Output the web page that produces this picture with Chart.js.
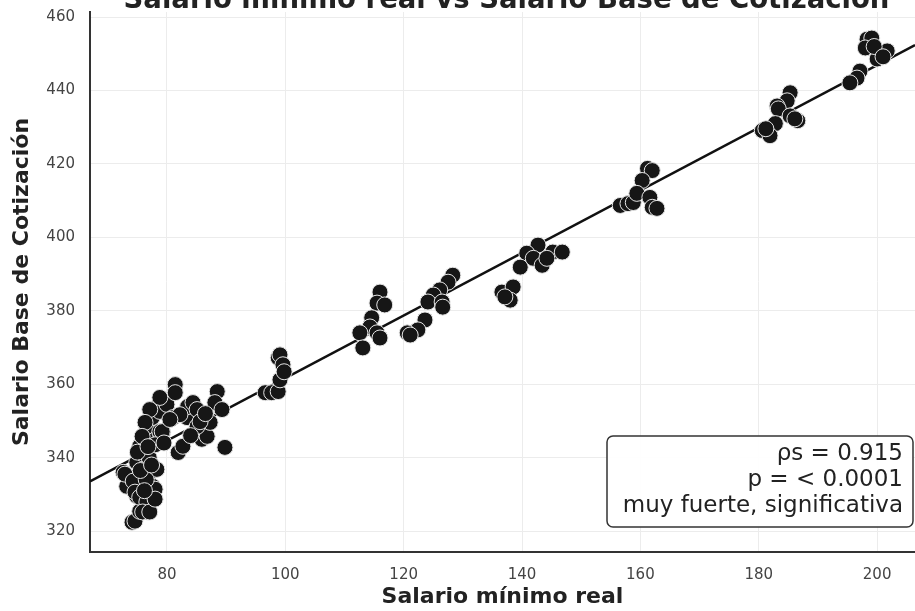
<!DOCTYPE html>
<html>
<head>
<meta charset="utf-8">
<script src="https://cdn.jsdelivr.net/npm/chart.js@4"></script>
<style>
  body { margin: 0; background: #fff; }
</style>
</head>
<body>
<canvas id="scatter" width="915" height="611"></canvas>
<script>
const titulo = 'Salario mínimo real vs Salario Base de Cotización'
const ejeX = 'Salario mínimo real'
const ejeY = 'Salario Base de Cotización'
const estadisticos = ['ρs = 0.915', 'p = < 0.0001', 'muy fuerte, significativa']

const ticksX = [80, 100, 120, 140, 160, 180, 200]
const ticksY = [320, 340, 360, 380, 400, 420, 440, 460]

const salarioMinimo = [
  198.3, 199.1, 198.0, 200.8, 201.7, 200.0, 197.1, 196.6, 195.4, 199.5, 201.0,
  185.3, 184.8, 183.1, 183.3, 185.3, 186.6, 182.8, 180.6, 181.9, 181.2, 186.1,
  156.6, 157.9, 158.8, 161.2, 162.0, 160.3, 159.4, 161.6, 162.0, 162.8,
  142.7, 140.8, 139.7, 141.9, 143.4, 145.2, 146.8, 144.2, 136.6, 138.5, 138.0, 137.1,
  128.3, 127.5, 126.1, 125.0, 124.1, 126.5, 126.6, 123.6, 122.4, 120.6, 121.1,
  116.0, 115.5, 116.8, 114.6, 114.3, 112.6, 115.5, 116.0, 113.1,
  96.6, 97.7, 98.8, 99.1, 98.8, 99.1, 99.6, 99.8,
  74.1, 74.6, 75.4, 76.8, 74.9, 77.1, 74.3, 73.2, 72.6, 74.9, 75.1, 77.1, 77.6, 77.5,
  75.4, 76.3, 76.6, 77.5, 78.8, 79.3, 78.8, 78.8, 80.0, 81.4, 81.4, 81.0, 81.9, 82.7,
  83.4, 83.5, 84.4, 85.1, 85.9, 86.8, 87.3, 88.5, 88.1, 89.3, 89.8, 82.2, 85.1, 85.6,
  78.8, 77.1, 76.3, 75.8, 74.9, 72.9, 74.3, 74.6, 75.4, 76.6, 75.9, 77.1, 79.2, 80.5,
  78.3, 78.0, 78.0, 76.0, 77.0, 76.5, 75.5, 78.0, 79.5, 84.0, 86.5,
  76.2, 77.4, 75.0, 76.8
]
const salarioBase = [
  454.0, 454.3, 451.6, 450.0, 450.8, 448.6, 445.3, 443.4, 442.1, 452.0, 449.2,
  439.4, 437.2, 435.8, 435.0, 433.1, 431.8, 431.0, 429.1, 427.7, 429.6, 432.3,
  408.7, 409.2, 409.5, 418.8, 418.2, 415.5, 412.0, 410.9, 408.2, 407.9,
  397.9, 395.7, 391.9, 394.3, 392.4, 396.0, 396.0, 394.3, 385.1, 386.5, 382.9, 383.8,
  389.7, 387.8, 385.7, 384.3, 382.4, 382.4, 381.0, 377.5, 374.8, 374.0, 373.4,
  385.1, 382.1, 381.6, 378.1, 375.6, 374.0, 374.0, 372.6, 369.9,
  357.7, 357.7, 358.0, 361.2, 367.2, 368.0, 365.3, 363.4,
  322.4, 322.7, 325.4, 325.2, 329.5, 329.5, 331.4, 332.2, 336.0, 334.9, 338.7, 336.0, 332.2, 337.6,
  343.1, 345.8, 348.5, 350.9, 347.1, 346.9, 355.0, 352.6, 354.5, 359.9, 357.7, 350.9, 341.4, 343.1,
  350.9, 353.9, 355.0, 353.1, 345.0, 345.8, 349.6, 358.0, 355.0, 353.1, 342.8, 351.7, 348.5, 349.8,
  356.4, 353.1, 349.6, 345.8, 338.7, 335.5, 333.6, 330.6, 329.2, 327.9, 325.2, 325.2, 347.1, 350.4,
  336.8, 331.4, 328.7, 341.0, 340.0, 334.0, 336.5, 343.5, 344.0, 346.0, 352.0,
  331.0, 338.0, 341.5, 343.0
]

// recta de ajuste, extremos
const rectaX = [67, 206.4]
const rectaY = [333.5, 452.4]

const puntos = salarioMinimo.map((x, i) => ({ x: x, y: salarioBase[i] }))
const recta = rectaX.map((x, i) => ({ x: x, y: rectaY[i] }))

const fuente = '"DejaVu Sans", sans-serif'

const tituloCortado = {
  id: 'tituloCortado',
  afterDraw(chart) {
    const ctx = chart.ctx
    const a = chart.chartArea
    ctx.save()
    ctx.font = 'bold 27.5px ' + fuente
    ctx.fillStyle = '#222'
    ctx.textAlign = 'center'
    ctx.textBaseline = 'alphabetic'
    ctx.fillText(titulo, (a.left + a.right) / 2 + 4, 8)
    ctx.restore()
  }
}

const cajaTexto = {
  id: 'cajaTexto',
  afterDraw(chart) {
    const ctx = chart.ctx
    const x0 = 607, y0 = 436, w = 306, h = 91, r = 6
    ctx.save()
    ctx.beginPath()
    ctx.roundRect(x0, y0, w, h, r)
    ctx.fillStyle = 'rgba(255,255,255,0.95)'
    ctx.fill()
    ctx.lineWidth = 1.5
    ctx.strokeStyle = '#333'
    ctx.stroke()
    ctx.font = '23px ' + fuente
    ctx.fillStyle = '#222'
    ctx.textAlign = 'right'
    ctx.textBaseline = 'middle'
    estadisticos.forEach((t, i) => {
      ctx.fillText(t, x0 + w - 10, y0 + 18 + i * 26)
    })
    ctx.restore()
  }
}

const scatterCanvas = document.querySelector('#scatter')

const scatterChart = new Chart(scatterCanvas, {
  type: 'scatter',
  data: {
    datasets: [
      {
        label: 'Observaciones',
        data: puntos,
        backgroundColor: '#161616',
        borderColor: '#e6e6e6',
        borderWidth: 1,
        pointRadius: 8,
        order: 0
      },
      {
        label: 'Ajuste',
        data: recta,
        showLine: true,
        borderColor: '#111',
        borderWidth: 2.5,
        pointRadius: 0,
        order: 1
      }
    ]
  },
  options: {
    responsive: false,
    animation: false,
    devicePixelRatio: 1,
    layout: { autoPadding: false, padding: { top: 12, right: 0, left: 0, bottom: 0 } },
    plugins: {
      legend: { display: false },
      tooltip: { enabled: false }
    },
    scales: {
      x: {
        type: 'linear',
        min: 67,
        max: 206.4,
        afterBuildTicks: s => { s.ticks = ticksX.map(v => ({ value: v })) },
        afterFit: s => { s.height = 59; s.paddingLeft = 0; s.paddingRight = 0 },
        grid: { color: '#ececec', drawTicks: false },
        border: { color: '#333', width: 2 },
        ticks: { color: '#444', padding: 14, font: { family: fuente, size: 15 } },
        title: {
          display: true,
          text: ejeX,
          color: '#222',
          padding: { top: 0, bottom: 1 },
          font: { family: fuente, size: 22, weight: 'bold' }
        }
      },
      y: {
        min: 314.3,
        max: 461.4,
        afterBuildTicks: s => { s.ticks = ticksY.map(v => ({ value: v })) },
        afterFit: s => { s.width = 90; s.paddingTop = 0; s.paddingBottom = 0 },
        grid: { color: '#ececec', drawTicks: false },
        border: { color: '#333', width: 2 },
        ticks: { color: '#444', padding: 15, font: { family: fuente, size: 15 } },
        title: {
          display: true,
          text: ejeY,
          color: '#222',
          padding: { top: 9, bottom: 0 },
          font: { family: fuente, size: 22, weight: 'bold' }
        }
      }
    }
  },
  plugins: [tituloCortado, cajaTexto]
})
</script>
</body>
</html>
